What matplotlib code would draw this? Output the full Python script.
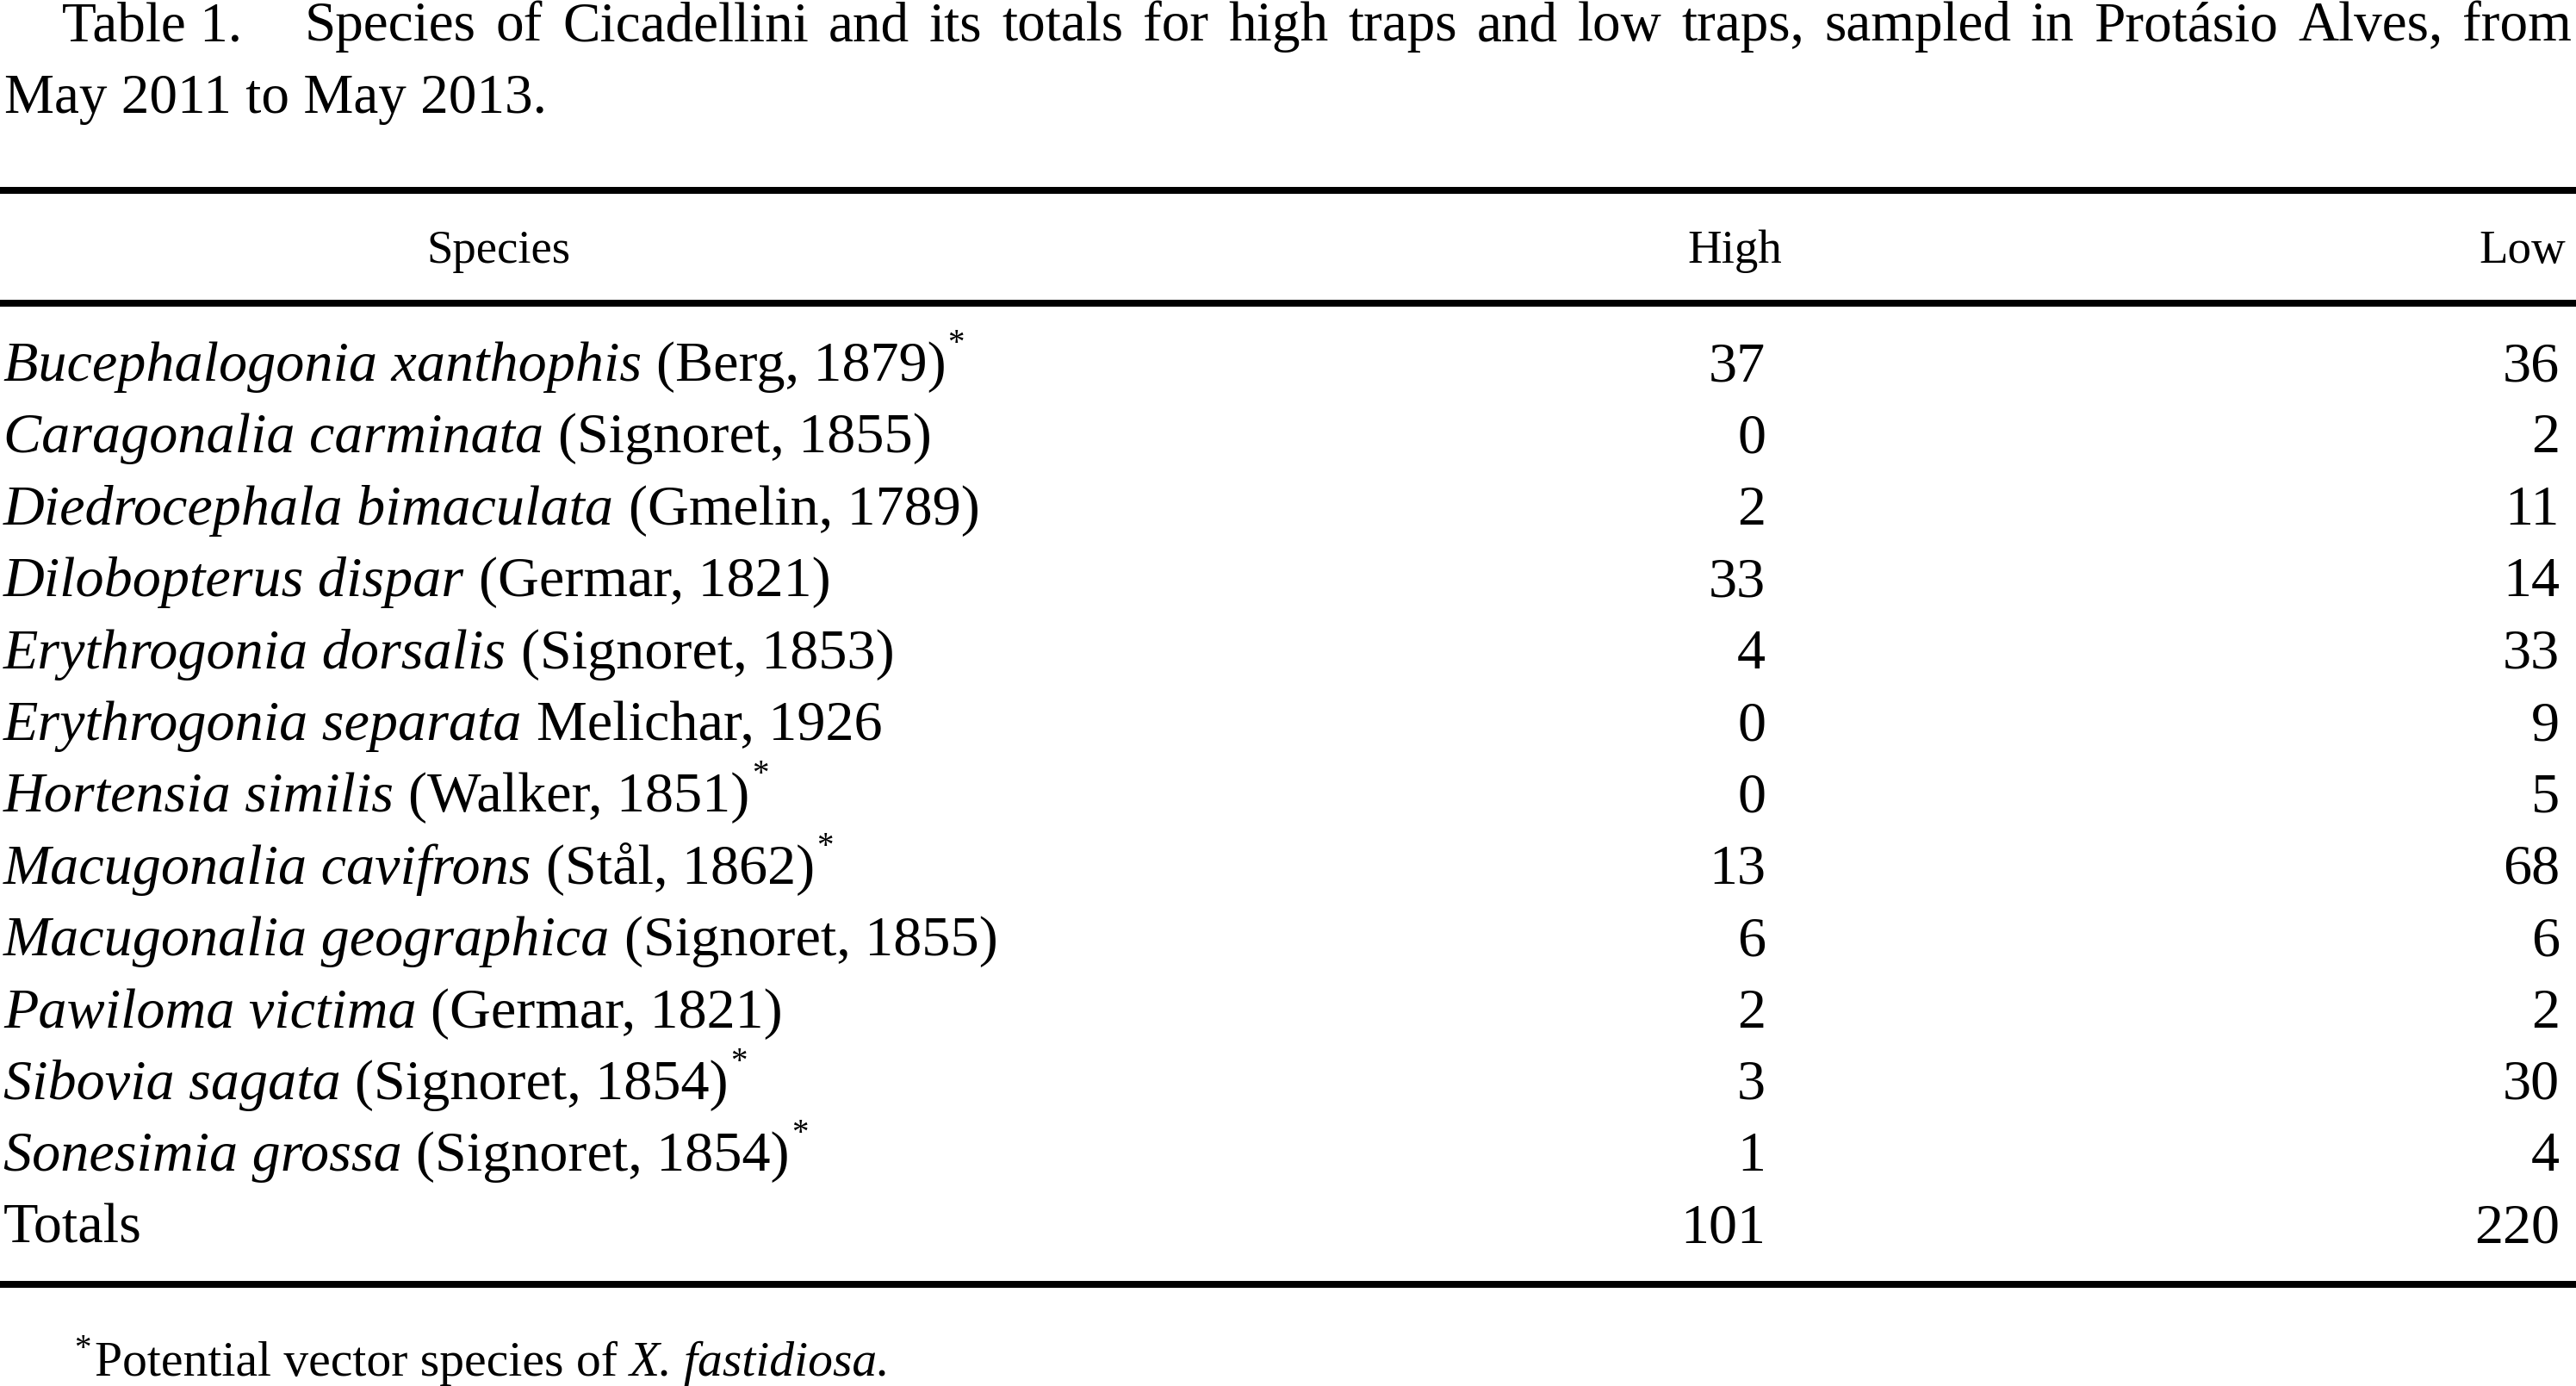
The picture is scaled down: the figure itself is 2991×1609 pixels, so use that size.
import matplotlib
matplotlib.use('Agg')
import matplotlib.pyplot as plt

# table contents
genera = ['Bucephalogonia xanthophis', 'Caragonalia carminata', 'Diedrocephala bimaculata',
          'Dilobopterus dispar', 'Erythrogonia dorsalis', 'Erythrogonia separata',
          'Hortensia similis', 'Macugonalia cavifrons', 'Macugonalia geographica',
          'Pawiloma victima', 'Sibovia sagata', 'Sonesimia grossa']
authors = ['(Berg, 1879)', '(Signoret, 1855)', '(Gmelin, 1789)', '(Germar, 1821)',
           '(Signoret, 1853)', 'Melichar, 1926', '(Walker, 1851)', '(Stål, 1862)',
           '(Signoret, 1855)', '(Germar, 1821)', '(Signoret, 1854)', '(Signoret, 1854)']
vector = [True, False, False, False, False, False, True, True, False, False, True, True]
high = [37, 0, 2, 33, 4, 0, 0, 13, 6, 2, 3, 1]
low = [36, 2, 11, 14, 33, 9, 5, 68, 6, 2, 30, 4]
columns = ['Species', 'High', 'Low']

title1 = 'Species of Cicadellini and its totals for high traps and low traps, sampled in Protásio Alves, from'
title2 = 'May 2011 to May 2013.'

W, H = 2991, 1609
plt.rcParams['font.family'] = 'Liberation Serif'
fig = plt.figure(figsize=(W / 100, H / 100), dpi=100)
ax = fig.add_axes([0, 0, 1, 1])
ax.set_xlim(0, W)
ax.set_ylim(H, 0)
ax.axis('off')
r = fig.canvas.get_renderer()

TITLE = 47
BODY = 47.6
HEAD = 39.5
FOOT = 41.5
STAR = 28


def width(s, size, style='normal'):
    t = ax.text(0, 0, s, fontsize=size, style=style)
    w = t.get_window_extent(r).width
    t.remove()
    return w


def put(x, y, parts, size):
    sp = width('x x', size) - width('xx', size)
    for s, st in parts:
        t = ax.text(x, y, s, fontsize=size, style=st, va='baseline')
        x += t.get_window_extent(r).width + sp
    return x - sp


# title, first line justified
ax.text(72, 47, 'Table 1.', fontsize=TITLE, va='baseline')
words = title1.split()
ws = [width(w, TITLE) for w in words]
x0, x1 = 354, 2986
gap = (x1 - x0 - sum(ws)) / (len(words) - 1)
x = x0
for w, wd in zip(words, ws):
    ax.text(x, 47, w, fontsize=TITLE, va='baseline')
    x += wd + gap
ax.text(5, 131, title2, fontsize=TITLE, va='baseline')

# rules
ax.hlines([221, 352, 1491], 0, W, lw=5.76, color='black')

# header
ax.text(579, 305, columns[0], fontsize=HEAD, ha='center', va='baseline')
ax.text(2014, 305, columns[1], fontsize=HEAD, ha='center', va='baseline')
ax.text(2979, 305, columns[2], fontsize=HEAD, ha='right', va='baseline')

# rows
step = 83.4
for i in range(len(genera)):
    y = 442 + i * step
    end = put(4, y, [(genera[i], 'italic'), (authors[i], 'normal')], BODY)
    if vector[i]:
        ax.text(end + 2, y - 33, '*', fontsize=STAR, va='baseline')
    ax.text(2050, y, str(high[i]), fontsize=BODY, ha='right', va='baseline')
    ax.text(2972, y, str(low[i]), fontsize=BODY, ha='right', va='baseline')

y = 442 + len(genera) * step
ax.text(4, y, 'Totals', fontsize=BODY, va='baseline')
ax.text(2050, y, str(sum(high)), fontsize=BODY, ha='right', va='baseline')
ax.text(2972, y, str(sum(low)), fontsize=BODY, ha='right', va='baseline')

# footnote
ax.text(86, 1576, '*', fontsize=STAR, va='baseline')
put(110, 1597, [('Potential vector species of', 'normal'), ('X. fastidiosa.', 'italic')], FOOT)

fig.savefig('out.png', dpi=100)
